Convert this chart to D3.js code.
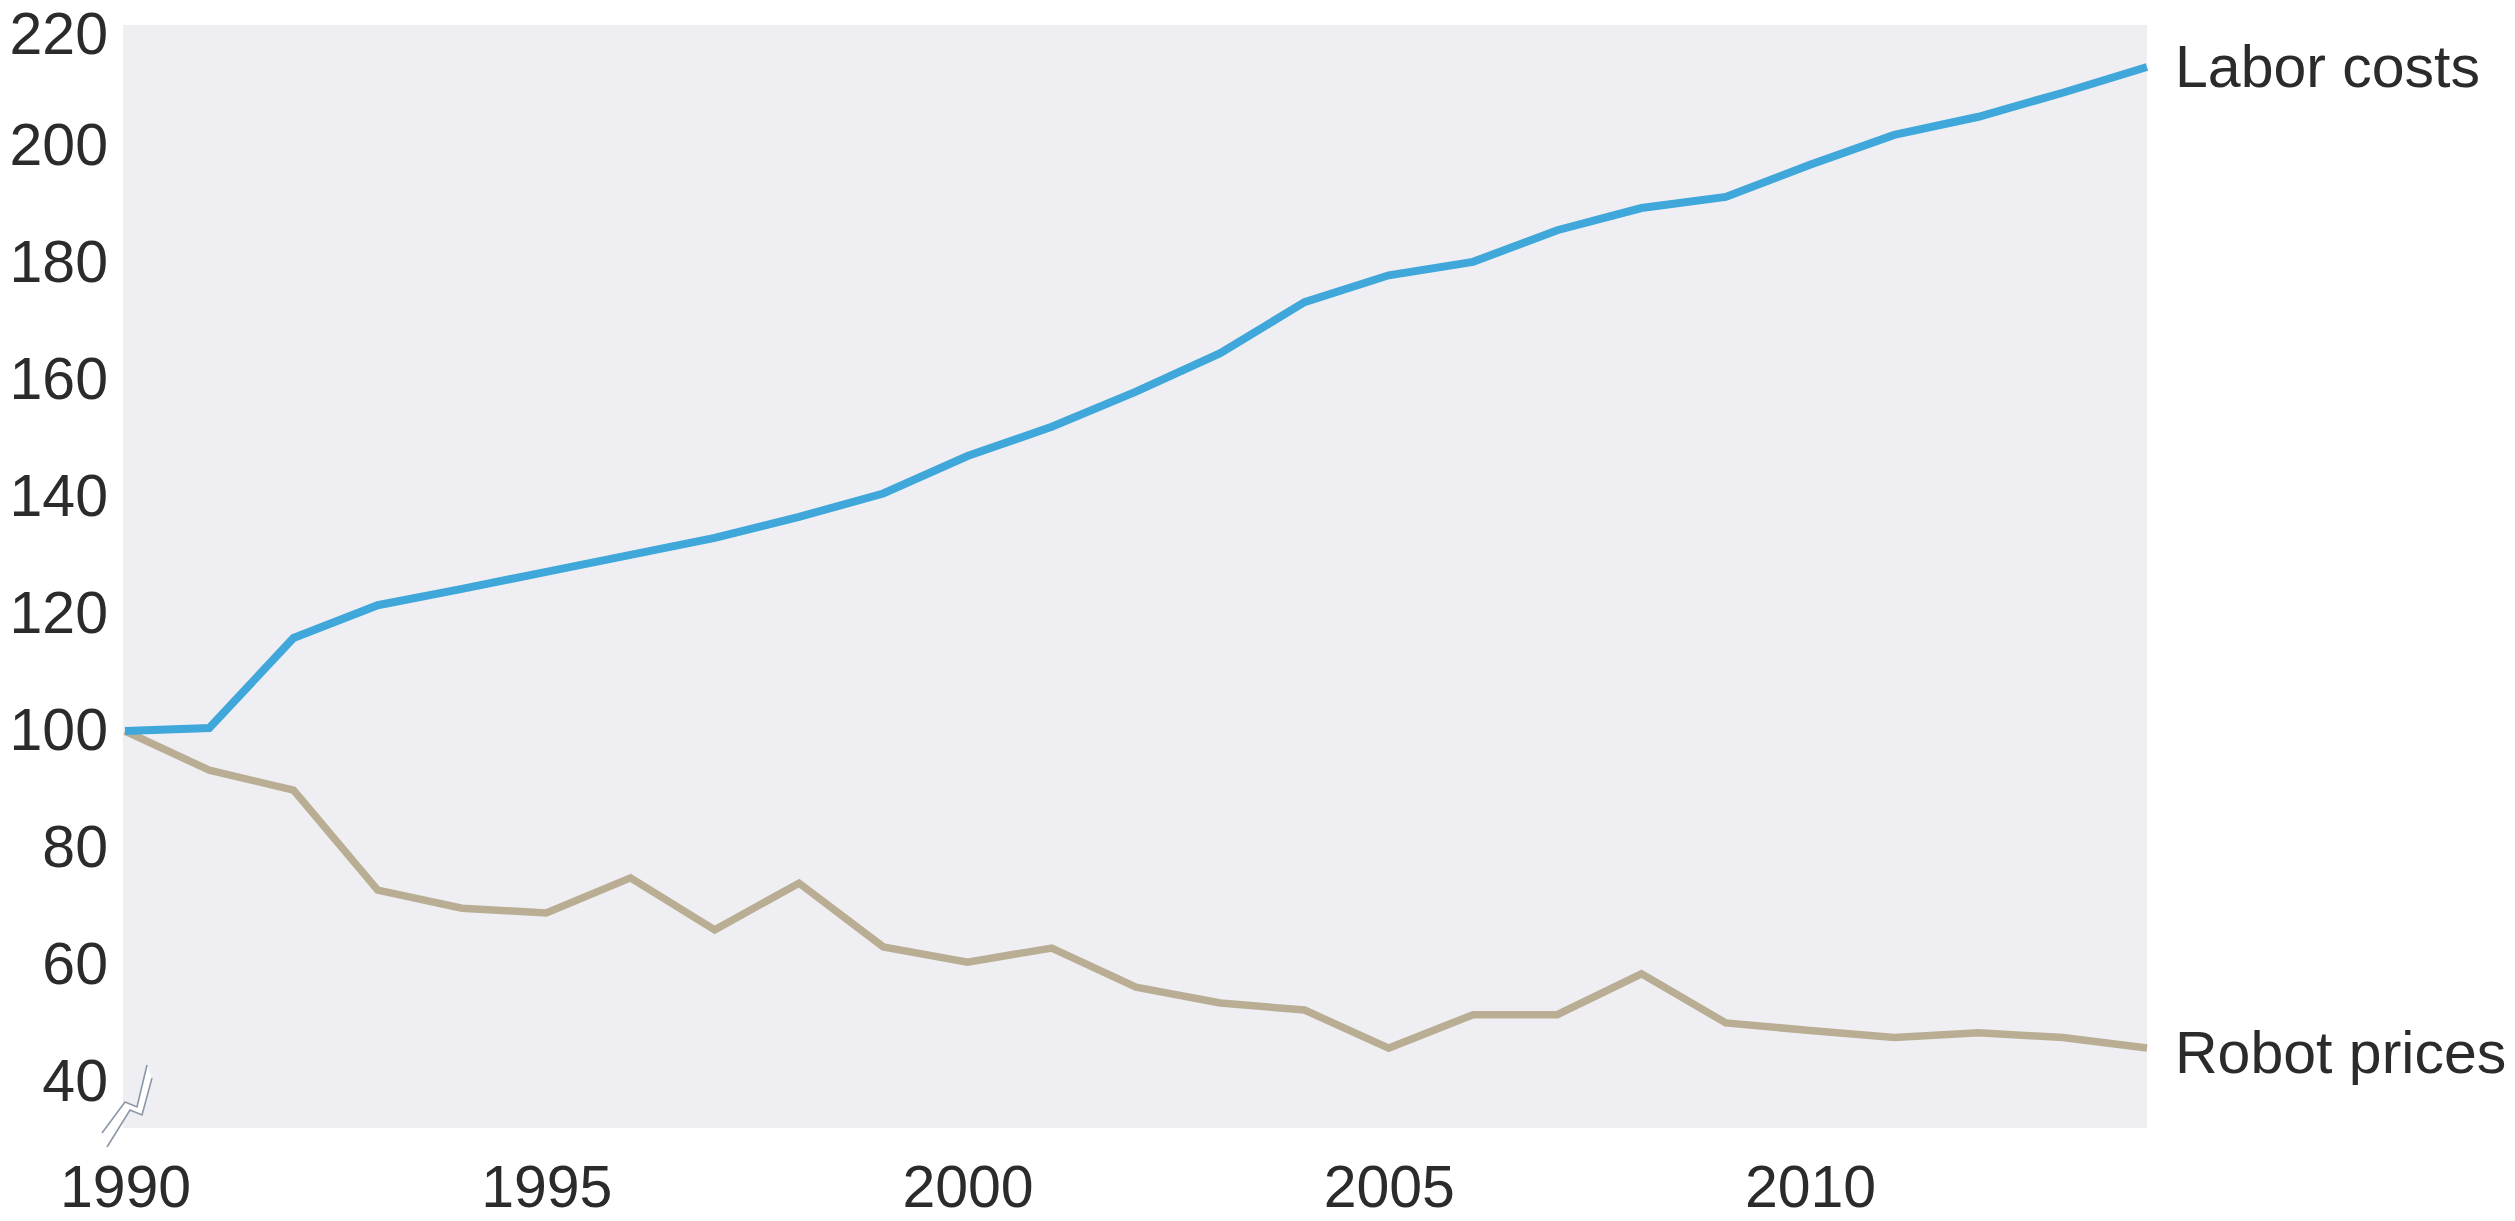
<!DOCTYPE html>
<html>
<head>
<meta charset="utf-8">
<script src="https://cdn.jsdelivr.net/npm/d3@7"></script>
<style>
  html, body { margin: 0; padding: 0; background: #ffffff; }
  svg { display: block; }
  text { font-family: "Liberation Sans", Arial, Helvetica, sans-serif; fill: #2b2b2b; }
</style>
</head>
<body>
<svg id="chart" width="2515" height="1221"></svg>
<script>
const years = d3.range(1990, 2015);
const laborCosts = [100, 100.5, 115.9, 121.5, 124.3, 127.2, 130.1, 133.0, 136.6, 140.6, 147.0, 152.0, 158.0, 164.6, 173.3, 177.9, 180.2, 185.6, 189.4, 191.3, 196.8, 201.9, 205.0, 209.1, 213.5];
const robotPrices = [100, 93.3, 89.9, 72.8, 69.7, 68.9, 74.9, 66.0, 74.0, 63.1, 60.5, 62.9, 56.2, 53.5, 52.3, 45.8, 51.5, 51.5, 58.5, 50.1, 48.8, 47.6, 48.4, 47.6, 45.8];
const seriesNames = ["Labor costs", "Robot prices"];
const yTicks = [40, 60, 80, 100, 120, 140, 160, 180, 200, 220];
const xTicks = [1990, 1995, 2000, 2005, 2010];

const svg = d3.select("#chart");
const plot = { left: 123, right: 2147, top: 25, bottom: 1128 };

const x = d3.scaleLinear().domain([1990, 2014]).range([125, 2147]);
const y = d3.scaleLinear().domain([40, 220]).range([1082, 29]);

// background panel
svg.append("rect")
  .attr("x", plot.left).attr("y", plot.top)
  .attr("width", plot.right - plot.left).attr("height", plot.bottom - plot.top)
  .attr("fill", "#efeff3");

// axes
const yAxis = svg.append("g")
  .attr("transform", `translate(${plot.left},0)`)
  .call(d3.axisLeft(y).tickValues(yTicks).tickSize(0).tickPadding(15).tickFormat(d3.format("d")));
yAxis.select(".domain").remove();
yAxis.selectAll("text")
  .attr("font-size", 59)
  .attr("font-family", "Liberation Sans, Arial, sans-serif")
  .attr("fill", "#2b2b2b")
  .attr("dy", d => d === 220 ? "0.42em" : "0.32em");

const xAxis = svg.append("g")
  .attr("transform", `translate(0,${plot.bottom})`)
  .call(d3.axisBottom(x).tickValues(xTicks).tickSize(0).tickPadding(37).tickFormat(d3.format("d")));
xAxis.select(".domain").remove();
xAxis.selectAll("text").attr("font-size", 59).attr("font-family", "Liberation Sans, Arial, sans-serif").attr("fill", "#2b2b2b");

// axis break symbol
const brk = svg.append("g");
brk.append("path")
  .attr("d", "M102,1133 L125,1102 L137,1107 L147,1065 L152,1078 L142,1115 L130,1110 L107,1147 Z")
  .attr("fill", "#ffffff");
brk.append("path")
  .attr("d", "M102,1133 L125,1102 L137,1107 L147,1065")
  .attr("fill", "none").attr("stroke", "#8b97a6").attr("stroke-width", 1.6);
brk.append("path")
  .attr("d", "M107,1147 L130,1110 L142,1115 L152,1078")
  .attr("fill", "none").attr("stroke", "#8b97a6").attr("stroke-width", 1.6);

// lines
const line = d3.line().x((d, i) => x(years[i])).y(d => y(d));

svg.append("path")
  .datum(robotPrices)
  .attr("d", line)
  .attr("fill", "none")
  .attr("stroke", "#b9ae94")
  .attr("stroke-width", 7.5)
  .attr("stroke-linejoin", "miter");

svg.append("path")
  .datum(laborCosts)
  .attr("d", line)
  .attr("fill", "none")
  .attr("stroke", "#3fa7da")
  .attr("stroke-width", 8)
  .attr("stroke-linejoin", "miter");

// series labels
svg.append("text")
  .attr("x", 2175).attr("y", 87)
  .attr("font-size", 59)
  .text(seriesNames[0]);
svg.append("text")
  .attr("x", 2175).attr("y", 1073)
  .attr("font-size", 59)
  .text(seriesNames[1]);
</script>
</body>
</html>
